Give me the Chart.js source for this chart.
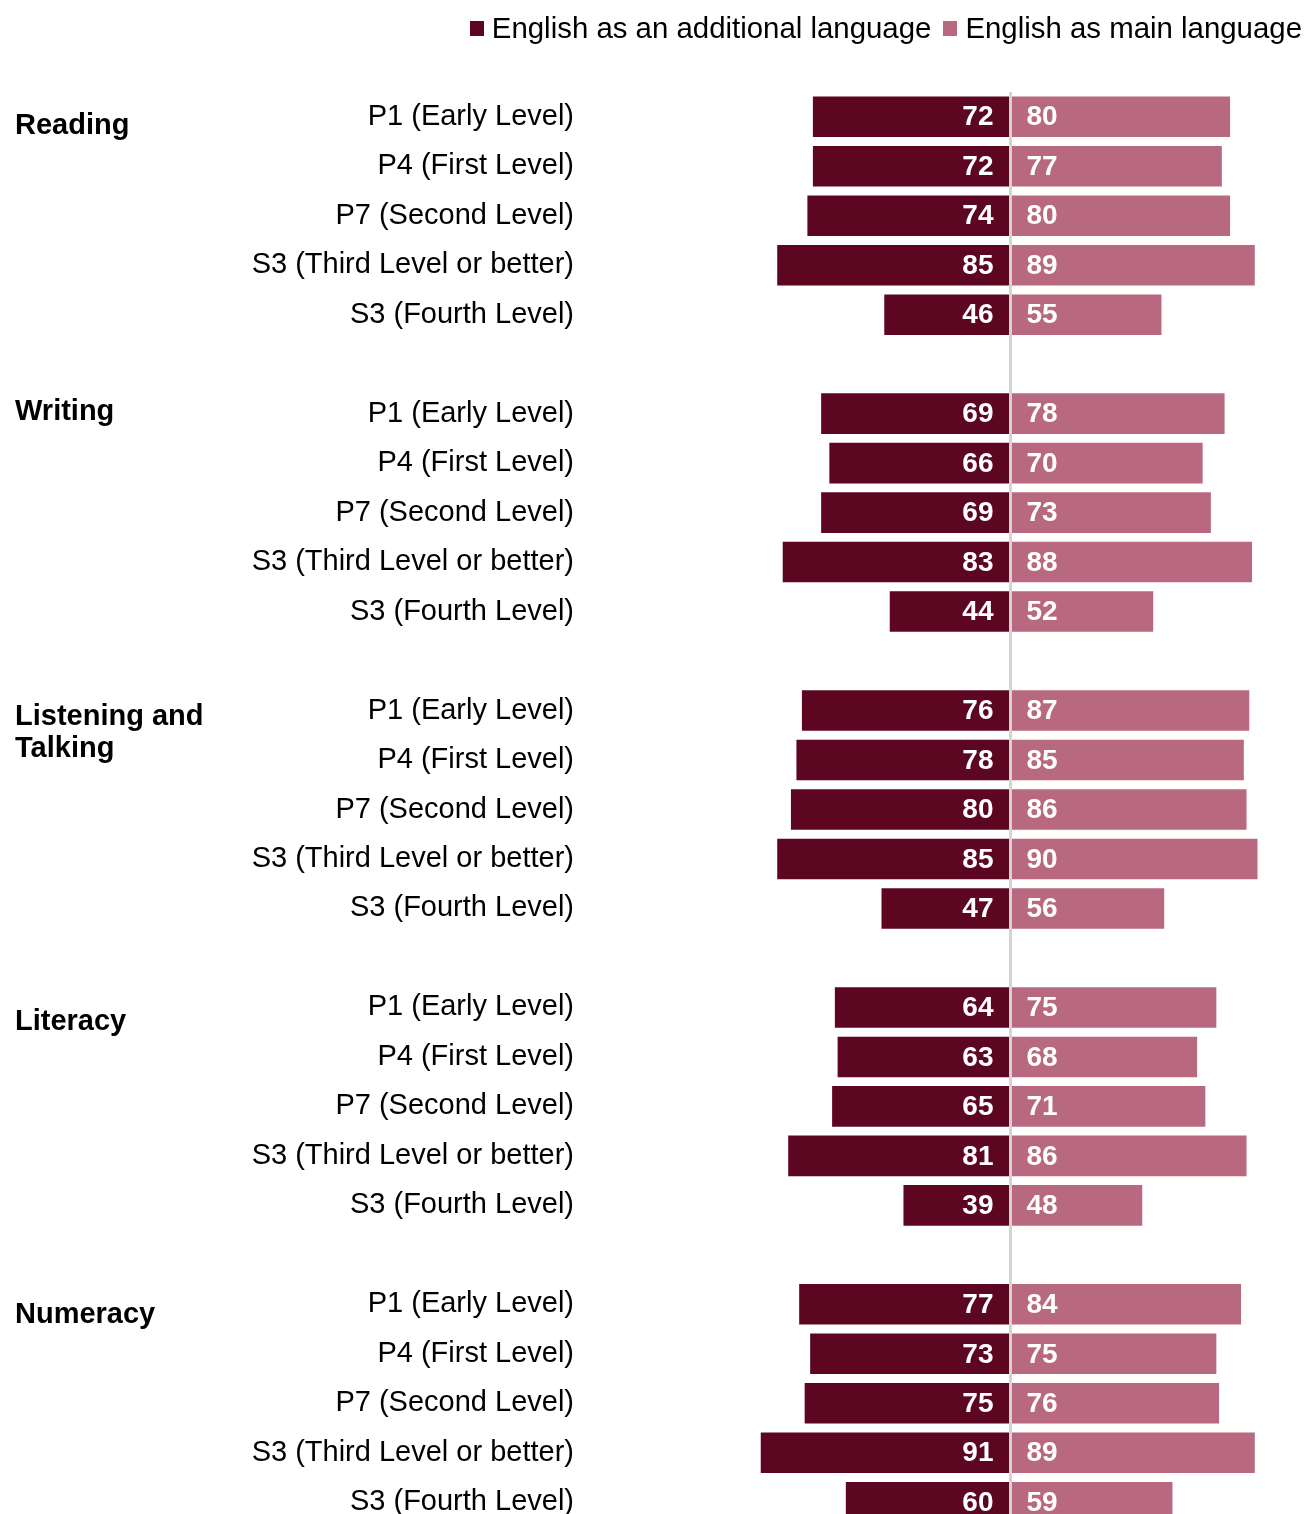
<!DOCTYPE html>
<html>
<head>
<meta charset="utf-8">
<script src="https://cdn.jsdelivr.net/npm/chart.js@4.4.0/dist/chart.umd.min.js"></script>
<style>
  html, body { margin: 0; padding: 0; background: #fff; overflow: hidden; }
  #wrap { width: 1305px; height: 1514px; position: relative; overflow: hidden; }
  #inner { width: 1305px; height: 1527px; position: absolute; left: 0; top: 0; }
  #legend {
    position: absolute; top: 11px; right: 3px; z-index: 2;
    display: flex; align-items: center;
    font: 29.4px 'Liberation Sans', Arial, sans-serif; line-height: 34px; color: #000;
    white-space: nowrap;
  }
  #legend .item { display: flex; align-items: center; margin-left: 12px; }
  #legend .box { width: 14px; height: 15px; margin-right: 8px; }
</style>
</head>
<body>
<div id="wrap">
  <div id="legend"></div>
  <div id="inner"><canvas id="chart"></canvas></div>
</div>
<script>
// subjects and stages
var subjects = ['Reading', 'Writing', 'Listening and Talking', 'Literacy', 'Numeracy'];
var levels = ['P1 (Early Level)', 'P4 (First Level)', 'P7 (Second Level)', 'S3 (Third Level or better)', 'S3 (Fourth Level)'];

// % achieving expected level, one row per subject
var additional = [
  [72, 72, 74, 85, 46],
  [69, 66, 69, 83, 44],
  [76, 78, 80, 85, 47],
  [64, 63, 65, 81, 39],
  [77, 73, 75, 91, 60]
];
var mainLang = [
  [80, 77, 80, 89, 55],
  [78, 70, 73, 88, 52],
  [87, 85, 86, 90, 56],
  [75, 68, 71, 86, 48],
  [84, 75, 76, 89, 59]
];

var seriesNames = ['English as an additional language', 'English as main language'];
var seriesColors = ['#5c0621', '#b8697f'];

// flatten into rows, with an empty row between subjects
var rowLabels = [];
var leftVals = [];
var rightVals = [];
var subjectStart = [];
for (var s = 0; s < subjects.length; s++) {
  if (s > 0) {
    rowLabels.push('');
    leftVals.push(null);
    rightVals.push(null);
  }
  subjectStart.push(rowLabels.length);
  for (var i = 0; i < levels.length; i++) {
    rowLabels.push(levels[i]);
    leftVals.push(-additional[s][i]);
    rightVals.push(mainLang[s][i]);
  }
}

// legend
for (var k = 0; k < seriesNames.length; k++) {
  document.getElementById('legend').innerHTML += `
    <span class="item"><span class="box" style="background:${seriesColors[k]}"></span>${seriesNames[k]}</span>
  `;
}

var FONT = "'Liberation Sans', Arial, sans-serif";
Chart.defaults.font.family = FONT;
Chart.defaults.color = '#000';

// grey zero line, value labels and subject headings
var extras = {
  id: 'extras',
  afterDatasetsDraw: function(chart) {
    var ctx = chart.ctx;
    var x0 = chart.scales.x.getPixelForValue(0);
    var area = chart.chartArea;

    ctx.save();
    ctx.strokeStyle = '#d4d4d4';
    ctx.lineWidth = 3;
    ctx.beginPath();
    ctx.moveTo(x0, area.top);
    ctx.lineTo(x0, area.bottom);
    ctx.stroke();

    ctx.fillStyle = '#fff';
    ctx.font = 'bold 28px ' + FONT;
    ctx.textBaseline = 'middle';
    chart.data.datasets.forEach(function(ds, d) {
      var meta = chart.getDatasetMeta(d);
      meta.data.forEach(function(bar, j) {
        var v = ds.data[j];
        if (v === null) return;
        if (d === 0) {
          ctx.textAlign = 'right';
          ctx.fillText(Math.abs(v), x0 - 17, bar.y + 1);
        } else {
          ctx.textAlign = 'left';
          ctx.fillText(v, x0 + 16, bar.y + 1);
        }
      });
    });
    ctx.restore();
  },
  afterDraw: function(chart) {
    var ctx = chart.ctx;
    var y = chart.scales.y;
    var shift = [9, -2, 6, 15, 11];
    ctx.save();
    ctx.fillStyle = '#000';
    ctx.font = 'bold 29px ' + FONT;
    ctx.textAlign = 'left';
    ctx.textBaseline = 'middle';
    subjects.forEach(function(name, s) {
      // wrap long headings onto two lines
      var words = name.split(' ');
      var lines = [];
      var line = '';
      words.forEach(function(w) {
        var t = line ? line + ' ' + w : w;
        if (ctx.measureText(t).width > 200 && line) {
          lines.push(line);
          line = w;
        } else {
          line = t;
        }
      });
      lines.push(line);
      var top = y.getPixelForValue(subjectStart[s]) + shift[s];
      lines.forEach(function(l, n) {
        ctx.fillText(l, 15, top + n * 32);
      });
    });
    ctx.restore();
  }
};

new Chart(document.getElementById('chart'), {
  type: 'bar',
  data: {
    labels: rowLabels,
    datasets: [{
      label: seriesNames[0],
      data: leftVals,
      backgroundColor: seriesColors[0]
    }, {
      label: seriesNames[1],
      data: rightVals,
      backgroundColor: seriesColors[1]
    }]
  },
  options: {
    indexAxis: 'y',
    responsive: true,
    maintainAspectRatio: false,
    animation: false,
    layout: {
      padding: { top: 92, right: 0, bottom: 0, left: 0 }
    },
    datasets: {
      bar: {
        categoryPercentage: 1,
        barPercentage: 0.82
      }
    },
    scales: {
      x: {
        display: false,
        stacked: true,
        min: -155.4,
        max: 107.3
      },
      y: {
        stacked: true,
        grid: { display: false, drawTicks: false },
        border: { display: false },
        ticks: {
          autoSkip: false,
          padding: 10,
          font: { size: 29 },
          color: '#000'
        },
        afterFit: function(scale) {
          scale.width = 584;
          scale.paddingTop = 0;
          scale.paddingBottom = 0;
        }
      }
    },
    plugins: {
      tooltip: { enabled: false },
      legend: { display: false }
    }
  },
  plugins: [extras]
});
</script>
</body>
</html>
